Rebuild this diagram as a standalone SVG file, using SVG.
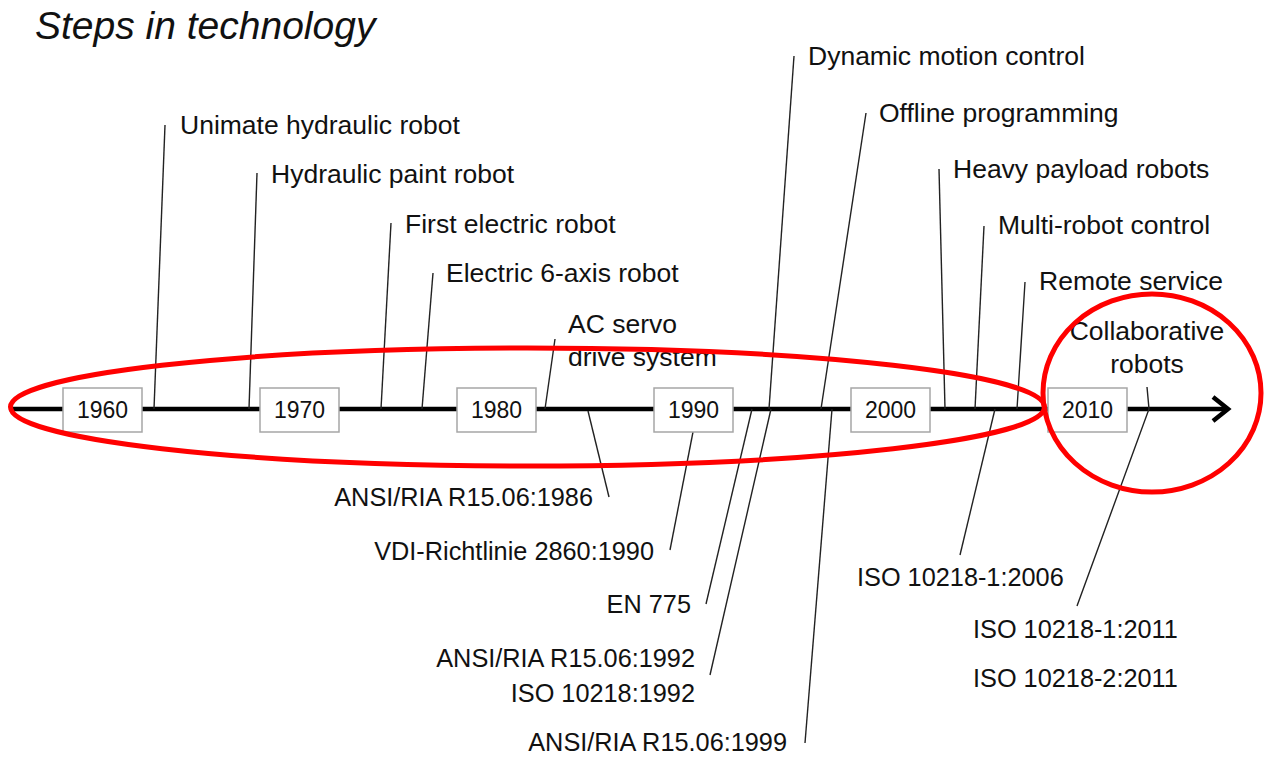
<svg xmlns="http://www.w3.org/2000/svg" width="1265" height="757" viewBox="0 0 1265 757">
<style>
.lbl{font-family:"Liberation Sans",Arial,sans-serif;font-size:26.5px;fill:#111}
.std{font-family:"Liberation Sans",Arial,sans-serif;font-size:25.3px;fill:#111}
.yr{font-family:"Liberation Sans",Arial,sans-serif;font-size:23px;fill:#111;text-anchor:middle}
.box{fill:#fff;stroke:#a6a6a6;stroke-width:1.5}
.ld{stroke:#222;stroke-width:1.4;fill:none}
.red{fill:none;stroke:#ff0000;stroke-width:5}
</style>
<rect width="1265" height="757" fill="#fff"/>
<text x="35" y="39" font-family="'Liberation Sans',Arial,sans-serif" font-size="39" font-style="italic" fill="#111">Steps in technology</text>

<g id="axis">
<line x1="9" y1="409" x2="1226" y2="409" stroke="#000" stroke-width="4.5"/>
<polyline points="1213,397 1228,409 1213,421" fill="none" stroke="#000" stroke-width="4.5" stroke-linejoin="miter"/>
</g>

<g id="connectors">
<line class="ld" x1="165" y1="125" x2="154" y2="409"/>
<line class="ld" x1="257" y1="173" x2="249" y2="409"/>
<line class="ld" x1="391" y1="223" x2="381" y2="409"/>
<line class="ld" x1="433" y1="273" x2="422" y2="409"/>
<line class="ld" x1="555" y1="339" x2="545" y2="409"/>
<line class="ld" x1="794" y1="56" x2="769" y2="409"/>
<line class="ld" x1="866" y1="113" x2="821" y2="409"/>
<line class="ld" x1="939" y1="169" x2="945" y2="409"/>
<line class="ld" x1="984" y1="226" x2="975" y2="409"/>
<line class="ld" x1="1025" y1="282" x2="1017" y2="409"/>
<line class="ld" x1="588" y1="411" x2="609" y2="497"/>
<line class="ld" x1="693" y1="432" x2="670" y2="550"/>
<line class="ld" x1="752" y1="409" x2="706" y2="604"/>
<line class="ld" x1="771" y1="409" x2="710" y2="675"/>
<line class="ld" x1="832" y1="409" x2="805" y2="743"/>
<line class="ld" x1="995" y1="409" x2="960" y2="555"/>
<polyline class="ld" points="1147,387 1149,409 1077,606"/>
</g>

<g id="y1960"><rect class="box" x="63" y="388" width="79" height="44"/><text class="yr" x="102.5" y="418">1960</text></g>
<g id="y1970"><rect class="box" x="260" y="388" width="79" height="44"/><text class="yr" x="299.5" y="418">1970</text></g>
<g id="y1980"><rect class="box" x="457" y="388" width="79" height="44"/><text class="yr" x="496.5" y="418">1980</text></g>
<g id="y1990"><rect class="box" x="654" y="388" width="79" height="44"/><text class="yr" x="693.5" y="418">1990</text></g>
<g id="y2000"><rect class="box" x="851" y="388" width="79" height="44"/><text class="yr" x="890.5" y="418">2000</text></g>
<g id="y2010"><rect class="box" x="1048" y="388" width="79" height="44"/><text class="yr" x="1087.5" y="418">2010</text></g>

<g id="unimate"><text class="lbl" x="180" y="134">Unimate hydraulic robot</text></g>
<g id="paint"><text class="lbl" x="271" y="183">Hydraulic paint robot</text></g>
<g id="firstelectric"><text class="lbl" x="405" y="233">First electric robot</text></g>
<g id="sixaxis"><text class="lbl" x="446" y="282">Electric 6-axis robot</text></g>
<g id="acservo"><text class="lbl" x="568" y="333">AC servo</text><text class="lbl" x="568" y="366">drive system</text></g>
<g id="dynamic"><text class="lbl" x="808" y="65">Dynamic motion control</text></g>
<g id="offline"><text class="lbl" x="879" y="122">Offline programming</text></g>
<g id="heavy"><text class="lbl" x="953" y="178">Heavy payload robots</text></g>
<g id="multi"><text class="lbl" x="998" y="234">Multi-robot control</text></g>
<g id="remote"><text class="lbl" x="1039" y="290">Remote service</text></g>
<g id="collab"><text class="lbl" x="1147" y="340" text-anchor="middle">Collaborative</text><text class="lbl" x="1147" y="373" text-anchor="middle">robots</text></g>

<g id="ansi1986"><text class="std" x="593" y="506" text-anchor="end">ANSI/RIA R15.06:1986</text></g>
<g id="vdi"><text class="std" x="654" y="560" text-anchor="end">VDI-Richtlinie 2860:1990</text></g>
<g id="en775"><text class="std" x="691" y="613" text-anchor="end">EN 775</text></g>
<g id="ansi1992"><text class="std" x="695" y="667" text-anchor="end">ANSI/RIA R15.06:1992</text><text class="std" x="695" y="702" text-anchor="end">ISO 10218:1992</text></g>
<g id="ansi1999"><text class="std" x="787" y="751" text-anchor="end">ANSI/RIA R15.06:1999</text></g>
<g id="iso2006"><text class="std" x="857" y="586">ISO 10218-1:2006</text></g>
<g id="iso2011"><text class="std" x="973" y="638">ISO 10218-1:2011</text><text class="std" x="973" y="687">ISO 10218-2:2011</text></g>

<g id="highlights">
<ellipse class="red" cx="527.5" cy="407" rx="517" ry="59"/>
<ellipse class="red" cx="1152" cy="393" rx="109" ry="99"/>
</g>
</svg>
